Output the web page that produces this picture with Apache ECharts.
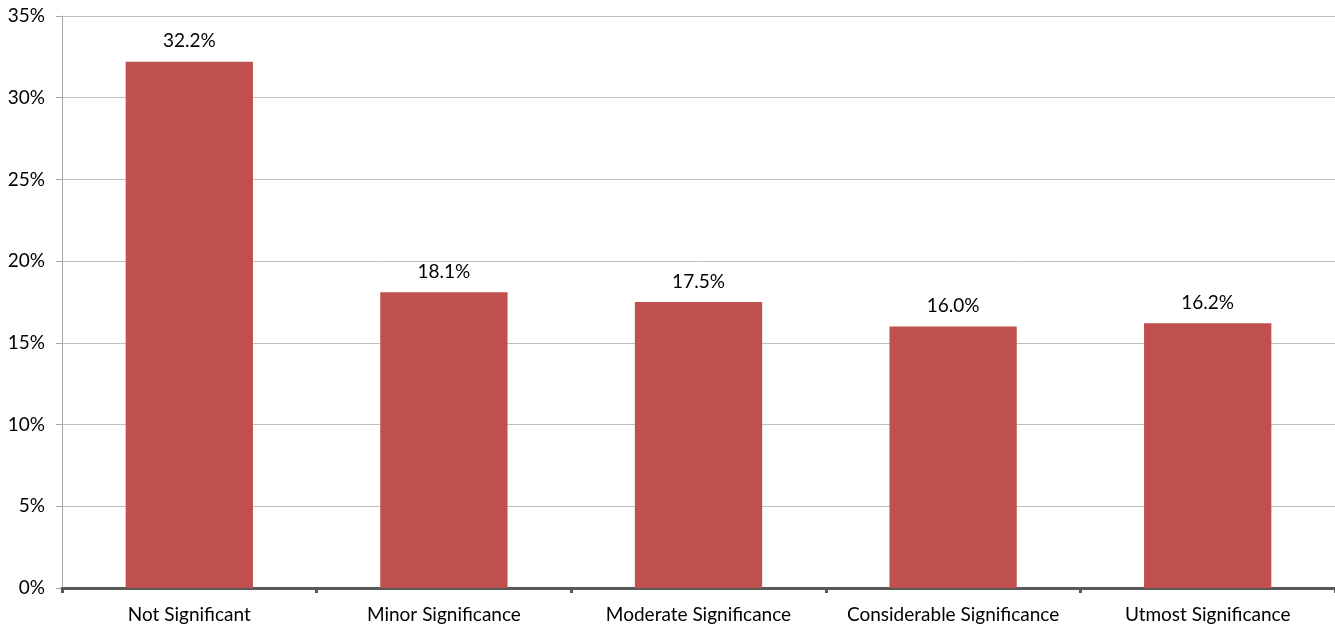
<!DOCTYPE html>
<html><head><meta charset="utf-8">
<script src="https://cdn.jsdelivr.net/npm/echarts@6/dist/echarts.min.js"></script>
<style>html,body{margin:0;padding:0;background:#fff}#c{width:1335px;height:629px}</style>
</head><body><div id="c"></div>
<script>
const categories = ["Not Significant","Minor Significance","Moderate Significance","Considerable Significance","Utmost Significance"];
const values = [32.2, 18.1, 17.5, 16.0, 16.2];
const yTicks = [0, 5, 10, 15, 20, 25, 30, 35];

const chart = echarts.init(document.getElementById('c'));
const font = 'Lato, "Open Sans", sans-serif';
chart.setOption({
  animation: false,
  grid: {left: 62, top: 16, width: 1275, height: 572, containLabel: false},
  xAxis: {
    type: 'category', data: categories,
    axisLine: {lineStyle: {color: '#595959', width: 3}},
    axisTick: {show: true, interval: 0, alignWithLabel: false, length: 5, lineStyle: {color: '#595959', width: 3}},
    axisLabel: {interval: 0, hideOverlap: false, color: '#000', fontSize: 19, fontFamily: font, margin: 17}
  },
  yAxis: {
    type: 'value', min: yTicks[0], max: yTicks[yTicks.length-1], interval: 5,
    axisLine: {show: true, lineStyle: {color: '#a6a6a6', width: 1}},
    axisTick: {show: true, length: 6, lineStyle: {color: '#a6a6a6'}},
    splitLine: {lineStyle: {color: '#bfbfbf', width: 1}},
    axisLabel: {color: '#000', fontSize: 19, fontFamily: font, margin: 17, formatter: v => v + '%'}
  },
  series: [{
    type: 'bar', data: values, barWidth: '50%',
    itemStyle: {color: '#C0504D'},
    label: {show: true, position: 'top', distance: 11, color: '#000', fontSize: 19, fontFamily: font,
      formatter: p => p.value.toFixed(1) + '%'}
  }]
});
</script></body></html>
